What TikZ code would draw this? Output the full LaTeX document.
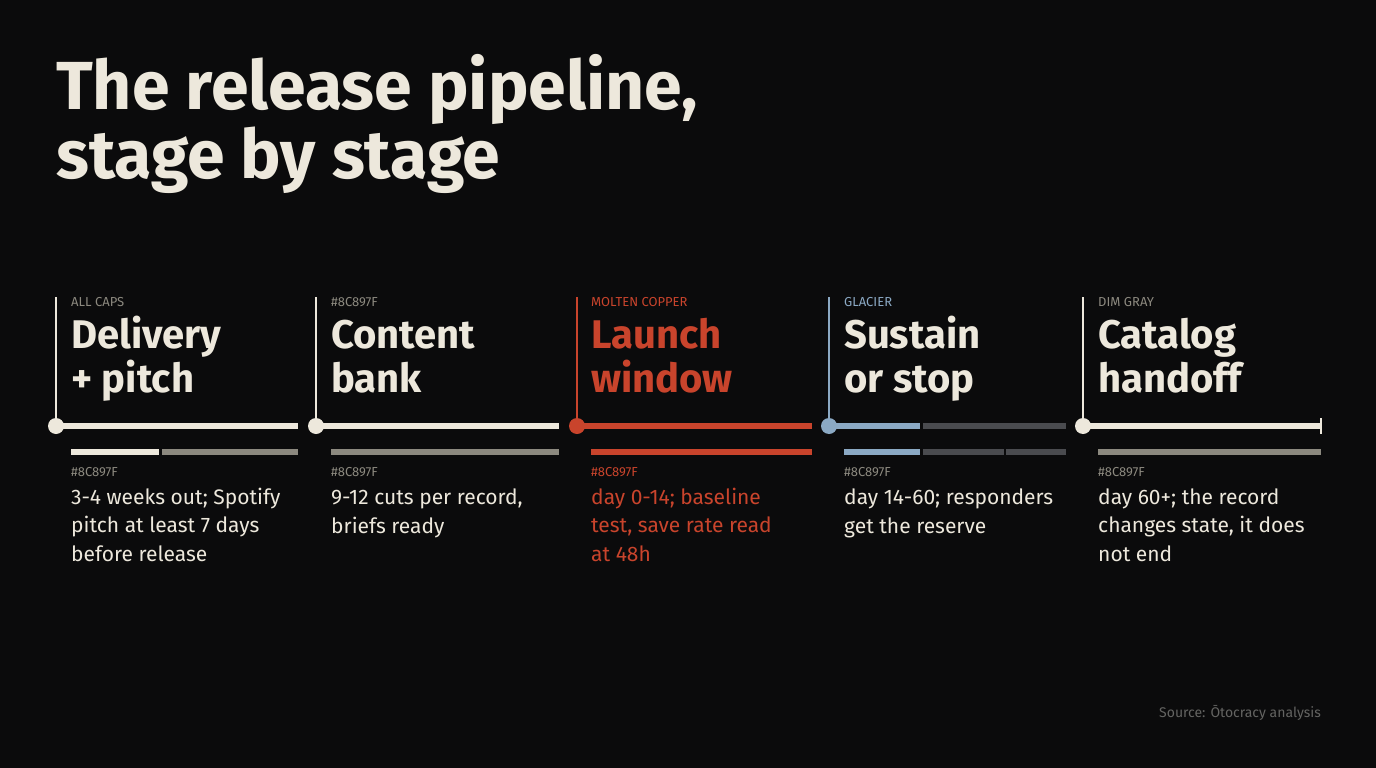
\documentclass[tikz,border=0pt]{standalone}
\usepackage{fontspec}
\setmainfont{Fira Sans}
\usetikzlibrary{positioning}
\definecolor{bgc}{HTML}{0B0B0C}
\definecolor{cream}{HTML}{EDE8DC}
\definecolor{dimgray}{HTML}{8C897F}
\definecolor{copper}{HTML}{C9442C}
\definecolor{glacier}{HTML}{8BA9C4}
\definecolor{slate}{HTML}{4A4B4F}
\tikzset{
  tag/.style={anchor=base west, inner sep=0pt, font=\fontsize{13}{13}\selectfont},
  head/.style={anchor=base west, inner sep=0pt, align=left, font=\fontsize{40}{44}\selectfont\bfseries},
  body/.style={anchor=base west, inner sep=0pt, align=left, font=\fontsize{21}{28.3}\selectfont},
  rail/.style={line width=6pt},
  strip/.style={line width=6pt},
  dot/.style={circle, inner sep=0pt, minimum size=16pt},
}
\begin{document}
\begin{tikzpicture}[x=1pt, y=-1pt]
  \fill[bgc] (0,0) rectangle (1376,768);
  \useasboundingbox (0,0) rectangle (1376,768);

  % title (base = last line)
  \node[anchor=base west, inner sep=0pt, align=left, text=cream,
        font=\fontsize{68}{69}\selectfont\bfseries] (title) at (56,178)
        {The release pipeline,\\stage by stage};

  % stage 1
  \draw[cream, line width=1.5pt] (56,297) -- (56,426);
  \node[tag, text=dimgray] (tagA) at (71,306) {ALL CAPS};
  \node[head, text=cream] (headA) at (71,392) {Delivery\\+ pitch};
  \draw[rail, cream] (56,426) -- (298,426);
  \node[dot, fill=cream] (dotA) at (56,426) {};
  \draw[strip, cream] (71,452) -- (159,452);
  \draw[strip, dimgray] (162,452) -- (298,452);
  \node[tag, text=dimgray] (hexA) at (71,476) {\#8C897F};
  \node[body, text=cream] (bodyA) at (71,561) {3-4 weeks out; Spotify\\pitch at least 7 days\\before release};

  % stage 2
  \draw[cream, line width=1.5pt] (316,297) -- (316,426);
  \node[tag, text=dimgray] (tagB) at (331,306) {\#8C897F};
  \node[head, text=cream] (headB) at (331,392) {Content\\bank};
  \draw[rail, cream] (316,426) -- (559,426);
  \node[dot, fill=cream] (dotB) at (316,426) {};
  \draw[strip, dimgray] (331,452) -- (559,452);
  \node[tag, text=dimgray] (hexB) at (331,476) {\#8C897F};
  \node[body, text=cream] (bodyB) at (331,533) {9-12 cuts per record,\\briefs ready};

  % stage 3
  \draw[copper, line width=1.5pt] (577,297) -- (577,426);
  \node[tag, text=copper] (tagC) at (591,306) {MOLTEN COPPER};
  \node[head, text=copper] (headC) at (591,392) {Launch\\window};
  \draw[rail, copper] (577,426) -- (812,426);
  \node[dot, fill=copper] (dotC) at (577,426) {};
  \draw[strip, copper] (591,452) -- (812,452);
  \node[tag, text=copper] (hexC) at (591,476) {\#8C897F};
  \node[body, text=copper] (bodyC) at (591,561) {day 0-14; baseline\\test, save rate read\\at 48h};

  % stage 4
  \draw[glacier, line width=1.5pt] (829,297) -- (829,426);
  \node[tag, text=glacier] (tagD) at (844,306) {GLACIER};
  \node[head, text=cream] (headD) at (844,392) {Sustain\\or stop};
  \draw[rail, glacier] (829,426) -- (920,426);
  \draw[rail, slate] (923,426) -- (1066,426);
  \node[dot, fill=glacier] (dotD) at (829,426) {};
  \draw[strip, glacier] (844,452) -- (920,452);
  \draw[strip, slate] (923,452) -- (1004,452);
  \draw[strip, slate] (1006,452) -- (1066,452);
  \node[tag, text=dimgray] (hexD) at (844,476) {\#8C897F};
  \node[body, text=cream] (bodyD) at (844,533) {day 14-60; responders\\get the reserve};

  % stage 5
  \draw[cream, line width=1.5pt] (1083,297) -- (1083,426);
  \node[tag, text=dimgray] (tagE) at (1098,306) {DIM GRAY};
  \node[head, text=cream] (headE) at (1098,392) {Catalog\\handoff};
  \draw[rail, cream] (1083,426) -- (1321,426);
  \draw[cream, line width=1.5pt] (1321,418) -- (1321,434);
  \node[dot, fill=cream] (dotE) at (1083,426) {};
  \draw[strip, dimgray] (1098,452) -- (1321,452);
  \node[tag, text=dimgray] (hexE) at (1098,476) {\#8C897F};
  \node[body, text=cream] (bodyE) at (1098,561) {day 60+; the record\\changes state, it does\\not end};

  % source
  \node[anchor=base east, inner sep=0pt, text=slate!60!dimgray,
        font=\fontsize{14}{14}\selectfont] (source) at (1321,717) {Source: Ōtocracy analysis};
\end{tikzpicture}
\end{document}
